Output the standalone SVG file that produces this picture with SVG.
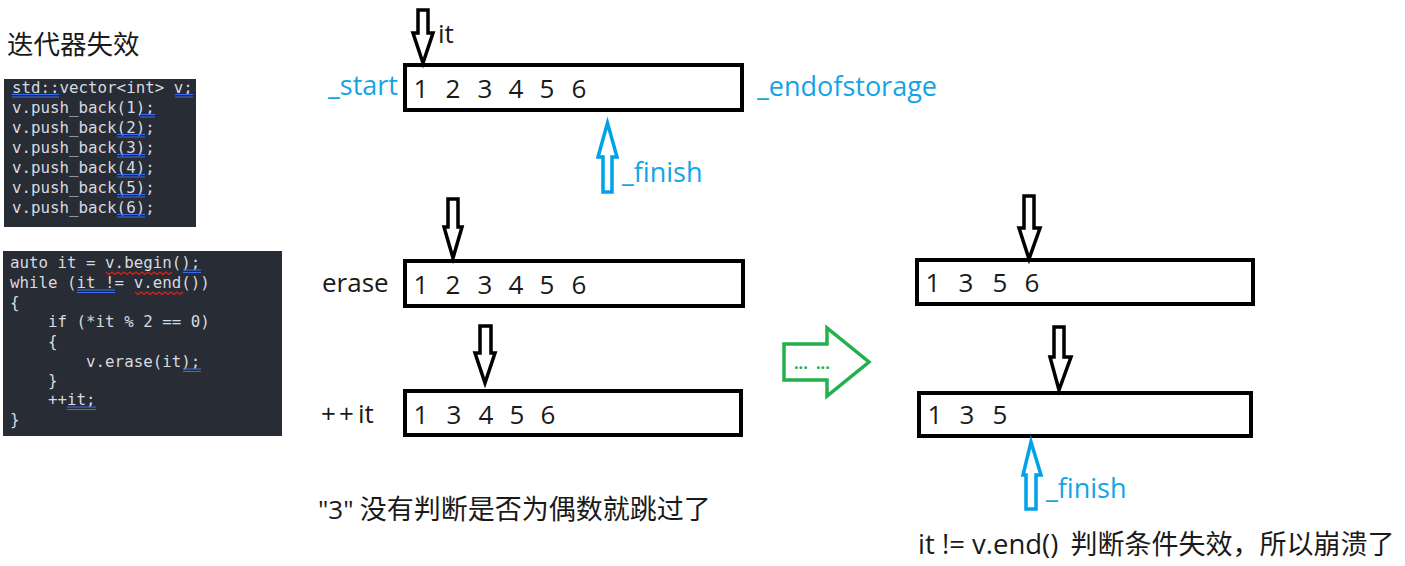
<svg xmlns="http://www.w3.org/2000/svg" width="1405" height="566" viewBox="0 0 1405 566">
<style>
.code{font-family:"DejaVu Sans Mono","Liberation Mono",monospace;font-size:15.8px;fill:#d7dae0;white-space:pre}
.t{font-family:"Open Sans","Noto Sans","Noto Sans CJK SC",sans-serif;font-size:26px;fill:#1a1a1a}
.cjk{font-family:"Noto Sans CJK SC",sans-serif;font-size:27px;fill:#1a1a1a}
.blue{font-family:"Open Sans","Noto Sans",sans-serif;font-size:27px;fill:#12a4e6}
.box{fill:#fff;stroke:#000;stroke-width:4}
.barr{fill:#fff;stroke:#000;stroke-width:3.5;stroke-linejoin:miter}
.carr{fill:#fff;stroke:#00a2e8;stroke-width:3.5}
.ul{stroke:#3a6cf0;stroke-width:1.2;fill:none}
.sq{stroke:#e0201c;stroke-width:1.3;fill:none}
.num{text-anchor:middle}
</style>
<rect width="1405" height="566" fill="#fff"/>

<g id="title"><text x="7" y="54" class="cjk" style="font-size:26.5px">迭代器失效</text></g>

<g id="code1">
<rect x="4" y="79" width="192" height="148" fill="#282c34"/>
<text class="code" x="12" y="93">std::vector&lt;int&gt; v;</text>
<text class="code" x="12" y="113">v.push_back(1);</text>
<text class="code" x="12" y="133">v.push_back(2);</text>
<text class="code" x="12" y="153">v.push_back(3);</text>
<text class="code" x="12" y="173">v.push_back(4);</text>
<text class="code" x="12" y="193">v.push_back(5);</text>
<text class="code" x="12" y="213">v.push_back(6);</text>
<path class="ul" d="M12 94.5H59M12 97H59M175 94.5H193M175 97H193M140 114.5H155M140 117H155M117 134.5H145M117 137H145M117 154.5H145M117 157H145M117 174.5H145M117 177H145M117 194.5H145M117 197H145M117 214.5H145M117 217H145"/>
</g>

<g id="code2" xml:space="preserve">
<rect x="3" y="251" width="279" height="185" fill="#282c34"/>
<text class="code" x="10" y="268">auto it = v.begin();</text>
<text class="code" x="10" y="288">while (it != v.end())</text>
<text class="code" x="10" y="308">{</text>
<text class="code" x="10" y="327">    if (*it % 2 == 0)</text>
<text class="code" x="10" y="347">    {</text>
<text class="code" x="10" y="367">        v.erase(it);</text>
<text class="code" x="10" y="386">    }</text>
<text class="code" x="10" y="405">    ++it;</text>
<text class="code" x="10" y="425">}</text>
<path class="sq" d="M106 272l3 2.5 3-2.5 3 2.5 3-2.5 3 2.5 3-2.5 3 2.5 3-2.5 3 2.5 3-2.5 3 2.5 3-2.5 3 2.5 3-2.5 3 2.5 3-2.5 3 2.5 3-2.5 3 2.5 3-2.5 3 2.5 3-2.5M135 292l3 2.5 3-2.5 3 2.5 3-2.5 3 2.5 3-2.5 3 2.5 3-2.5 3 2.5 3-2.5 3 2.5 3-2.5 3 2.5 3-2.5 3 2.5 3-2.5"/>
<path class="ul" d="M183 270H201M183 272.5H201M77 290H115M77 292.5H115M183 369H201M183 371.5H201M67 407H96M67 409.5H96"/>
</g>

<g id="row1">
<rect class="box" x="405" y="65" width="337" height="45"/>
<text class="t num" x="421 453 485 516 547 579" y="98">123456</text>
<text class="blue" x="328" y="95">_start</text>
<text class="blue" x="757" y="96">_endofstorage</text>
<text class="t" x="438" y="43">it</text>
</g>

<g id="row2">
<rect class="box" x="405" y="261" width="338" height="45"/>
<text class="t num" x="421 453 485 516 547 579" y="294">123456</text>
<text class="t" x="322" y="292">erase</text>
</g>

<g id="row3">
<rect class="box" x="405" y="391" width="336" height="44"/>
<text class="t num" x="421 454 486 517 548" y="424">13456</text>
<text class="t" x="321 339 358" y="423">++it</text>
</g>

<g id="rowA">
<rect class="box" x="917" y="260" width="336" height="44"/>
<text class="t num" x="933 966 1000 1032" y="292">1356</text>
</g>

<g id="rowB">
<rect class="box" x="919" y="393" width="332" height="43"/>
<text class="t num" x="935 967 1000" y="424">135</text>
</g>

<g id="connectors">
<polygon class="barr" points="418,10 428,10 428,33 433,33 423,63 413,33 418,33"/>
<polygon class="carr" points="607.5,123 598,157 603,157 603,192 612,192 612,157 617,157"/>
<polygon class="barr" points="448,199 458,199 458,227 462,227 453,258 444,227 448,227"/>
<polygon class="barr" points="480,326 491,326 491,353 495,353 485,383 475,353 480,353"/>
<polygon class="barr" points="1024,196 1034,196 1034,228 1040,228 1029,259 1019,228 1024,228"/>
<polygon class="barr" points="1054,327 1064,327 1064,357 1071,357 1059,390 1050,357 1054,357"/>
<polygon class="carr" points="1031,442 1023,475 1026,475 1026,509 1036,509 1036,475 1041,475"/>
<polygon points="784,344 827,344 827,328 869,362 827,396 827,380 784,380" fill="#fff" stroke="#22b14c" stroke-width="3.5"/>
<text x="794" y="369" font-family="'Open Sans',sans-serif" font-size="16" fill="#22b14c" font-weight="bold" xml:space="preserve">...  ...</text>
</g>

<g id="labels">
<text class="blue" x="622" y="182">_finish</text>
<text class="blue" x="1046" y="498">_finish</text>
<text class="cjk" x="318" y="519" xml:space="preserve"><tspan class="t" style="font-size:26px">"3"</tspan> 没有判断是否为偶数就跳过了</text>
<text class="cjk" x="918" y="554" xml:space="preserve"><tspan class="t" style="font-size:27.5px">it != v.end()</tspan>  判断条件失效，所以崩溃了</text>
</g>
</svg>
